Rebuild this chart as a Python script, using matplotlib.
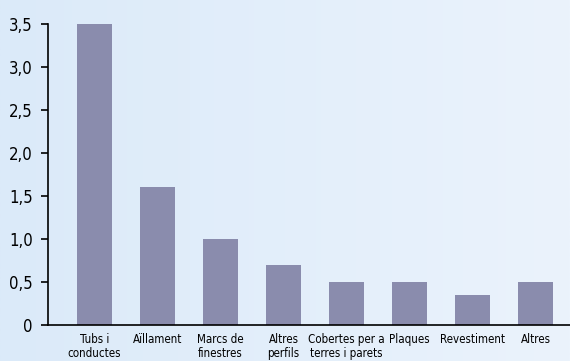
import numpy as np
import matplotlib
matplotlib.use('Agg')
from matplotlib import pyplot as plt
from matplotlib.colors import LinearSegmentedColormap

categories = ['Tubs i\nconductes', 'Aïllament', 'Marcs de\nfinestres', 'Altres\nperfils',
              'Cobertes per a\nterres i parets', 'Plaques', 'Revestiment', 'Altres']
values = [3.5, 1.6, 1.0, 0.7, 0.5, 0.5, 0.35, 0.5]
yticks = [0, 0.5, 1.0, 1.5, 2.0, 2.5, 3.0, 3.5]
ytick_labels = ['0', '0,5', '1,0', '1,5', '2,0', '2,5', '3,0', '3,5']


def main():
    plt.rcParams['font.family'] = ['DejaVu Sans']
    plt.rcParams['font.stretch'] = 'condensed'

    fig = plt.figure(figsize=(5.7, 3.61), dpi=100)

    # background gradient
    bg = fig.add_axes([0, 0, 1, 1], zorder=-1)
    cmap = LinearSegmentedColormap.from_list('bg', ['#dbeaf9', '#ebf3fc'])
    bg.imshow(np.linspace(0, 1, 256).reshape(1, -1), cmap=cmap, aspect='auto',
              extent=[0, 1, 0, 1])
    bg.set_axis_off()

    ax = fig.add_axes([48 / 570, 36 / 361, 1 - 48 / 570, (325 - 24) / 361])
    ax.patch.set_visible(False)
    x = np.arange(len(categories))
    ax.bar(x, values, width=0.556, color='#8a8cad')

    ax.set_xlim(-0.738, 7.548)
    ax.set_ylim(0, 3.5)
    ax.set_yticks(yticks)
    ax.set_yticklabels(ytick_labels, fontsize=12)
    ax.set_xticks(x)
    ax.set_xticklabels(categories, fontsize=8.3, linespacing=1.05)
    ax.tick_params(axis='x', length=0, pad=6)
    ax.tick_params(axis='y', length=5, width=1.2, pad=6)

    ax.spines['top'].set_visible(False)
    ax.spines['right'].set_visible(False)
    ax.spines['left'].set_linewidth(1.2)
    ax.spines['bottom'].set_linewidth(1.2)

    fig.savefig('out.png', dpi=100)


if __name__ == '__main__':
    main()
